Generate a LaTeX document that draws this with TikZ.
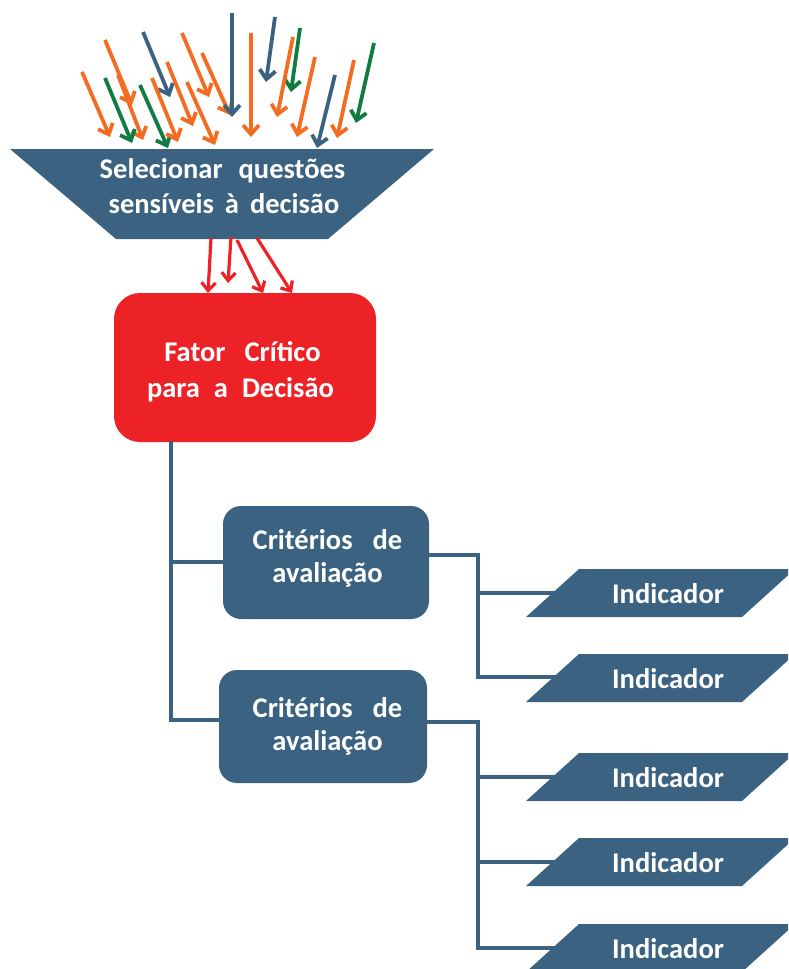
\documentclass[tikz,border=0pt]{standalone}
\usepackage{fontspec}
\setmainfont{Carlito}
\usetikzlibrary{arrows.meta}
\definecolor{sblue}{RGB}{59,99,129}
\definecolor{sorange}{RGB}{243,108,33}
\definecolor{sgreen}{RGB}{16,124,65}
\definecolor{sred}{RGB}{236,34,39}
\begin{document}
\begin{tikzpicture}[x=1pt,y=-1pt,
  txt/.style={text=white,font=\fontsize{28.5}{34}\selectfont\bfseries,inner sep=0pt,anchor=base},
  conn/.style={draw=sblue,line width=3.2pt},
  inarrow/.style={line width=3.8pt,-{Straight Barb[length=9pt,width=16pt]}},
  redarrow/.style={draw=sred,line width=3.2pt,-{Straight Barb[length=8pt,width=14pt]}},
  critbox/.style={fill=sblue,rounded corners=18pt,inner sep=0pt,minimum height=113pt},
  redbox/.style={fill=sred,rounded corners=26pt,inner sep=0pt}]
\useasboundingbox (0,0) rectangle (788,969);
\clip (0,0) rectangle (788,969);

% incoming arrows
\foreach \c/\a/\b/\p/\q in {
  sorange/82/72/110/137, sorange/105/40/132/105, sorange/118/75/143/140,
  sgreen/105/78/132/143, sblue/143/32/170/97, sgreen/140/85/168/148,
  sorange/152/78/178/142, sorange/167/62/193/126, sorange/182/33/209/97,
  sorange/187/82/215/145, sorange/202/53/230/115, sblue/232/13/232/117,
  sorange/251/33/251/137, sblue/275/17/266/82, sgreen/300/28/291/92,
  sorange/293/37/277/117, sorange/315/57/297/137, sblue/335/75/317/148,
  sorange/354/60/337/138, sgreen/374/43/356/123}
  \draw[inarrow,draw=\c] (\a,\b) -- (\p,\q);

% funnel
\fill[sblue] (10,149) -- (434,149) -- (328,239) -- (116,239) -- cycle;
\coordinate (funnel) at (222,194);
\node[txt] (sel1) at (222.5,178) {Selecionar\hspace{16pt}questões};
\node[txt] (sel2) at (224,213) {sensíveis\hspace{11pt}à\hspace{11pt}decisão};

% critical factor
\node[redbox,minimum width=262pt,minimum height=149pt] (fcd) at (245,367.5) {};
\node[txt] (fcd1) at (242.5,361) {Fator\hspace{19pt}Crítico};
\node[txt] (fcd2) at (240.5,397) {para\hspace{14pt}a\hspace{14pt}Decisão};

\draw[redarrow] (211,238) -- (208,293);
\draw[redarrow] (231,237) -- (228,283);
\draw[redarrow] (237,240) -- (263,293);
\draw[redarrow] (257,238) -- (292,293);

% connectors
\coordinate (t0) at (171,441);
\coordinate (t1) at (171,562);
\coordinate (t2) at (171,720);
\coordinate (j1) at (478,555);
\coordinate (j2) at (478,722);
\foreach \n/\y in {1/593,2/677,3/777,4/862,5/948}
  \coordinate (iw\n) at (560,\y);

\node[critbox,minimum width=206pt] (c1) at (326,562.5) {};
\node[critbox,minimum width=208pt] (c2) at (323,726.5) {};

\draw[conn] (t0) -- (t2) -- (t2 -| c2.west);
\draw[conn] (t1) -- (t1 -| c1.west);
\draw[conn] (c1.east |- j1) -- (j1) -- (j1 |- iw2) -- (iw2);
\draw[conn] (j1 |- iw1) -- (iw1);
\draw[conn] (c2.east |- j2) -- (j2) -- (j2 |- iw5) -- (iw5);
\draw[conn] (j2 |- iw3) -- (iw3);
\draw[conn] (j2 |- iw4) -- (iw4);

\node[txt] (c1a) at (327.5,549) {Critérios\hspace{20pt}de};
\node[txt] (c1b) at (327.5,582) {avaliação};
\node[txt] (c2a) at (327.5,717) {Critérios\hspace{20pt}de};
\node[txt] (c2b) at (327.5,750) {avaliação};

% indicators
\foreach \n/\t in {1/569,2/654,3/753,4/838,5/924} {
  \fill[sblue] (526,\t+48) -- (579,\t) -- (795,\t) -- (742,\t+48) -- cycle;
  \node[txt] (ind\n) at (668,\t+34) {Indicador};
}
\end{tikzpicture}
\end{document}
